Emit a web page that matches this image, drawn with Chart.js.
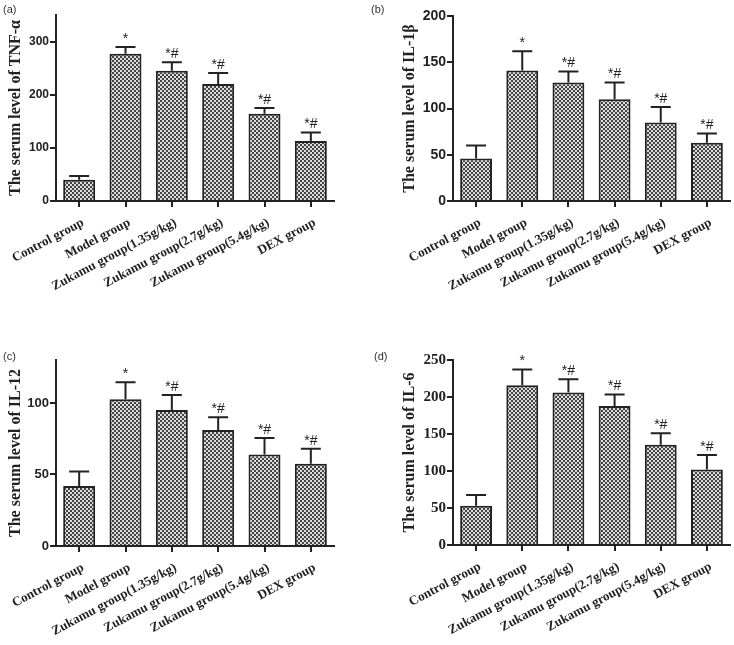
<!DOCTYPE html>
<html>
<head>
<meta charset="utf-8">
<script src="https://cdn.jsdelivr.net/npm/chart.js@4.4.1/dist/chart.umd.min.js"></script>
<style>
  body { margin: 0; background: #fff; }
  #wrap { position: relative; width: 734px; height: 645px; overflow: hidden; }
  canvas { position: absolute; }
  .tag { position: absolute; font: 11px "Liberation Sans", Arial, sans-serif; color: #333; }
</style>
</head>
<body>
<div id="wrap">
  <canvas id="chartA" width="367" height="330" style="left:0;top:0"></canvas>
  <canvas id="chartB" width="367" height="330" style="left:367px;top:0"></canvas>
  <canvas id="chartC" width="367" height="305" style="left:0;top:340px"></canvas>
  <canvas id="chartD" width="367" height="305" style="left:367px;top:340px"></canvas>
  <div class="tag" style="left:3px;top:3px">(a)</div>
  <div class="tag" style="left:371px;top:3px">(b)</div>
  <div class="tag" style="left:3px;top:350px">(c)</div>
  <div class="tag" style="left:374px;top:350px">(d)</div>
</div>
<script>
// groups on the x axis
const CATEGORIES = ['Control group', 'Model group', 'Zukamu group(1.35g/kg)',
  'Zukamu group(2.7g/kg)', 'Zukamu group(5.4g/kg)', 'DEX group'];
// significance marks above each bar
const MARKS = ['', '*', '*#', '*#', '*#', '*#'];

// (a) TNF-α
const TNF_MEAN = [40, 277, 245, 220, 164, 113];
const TNF_ERR = [7, 13, 16, 21, 11, 16];
const TNF_TICKS = [0, 100, 200, 300];
// (b) IL-1β
const IL1B_MEAN = [46, 141, 128, 110, 85, 63];
const IL1B_ERR = [14, 21, 12, 18, 16.5, 10];
const IL1B_TICKS = [0, 50, 100, 150, 200];
// (c) IL-12
const IL12_MEAN = [42, 102.5, 95, 81, 64, 57.5];
const IL12_ERR = [10, 12, 10.5, 9, 11.5, 10.5];
const IL12_TICKS = [0, 50, 100];
// (d) IL-6
const IL6_MEAN = [53, 216, 206, 188, 135.5, 102];
const IL6_ERR = [14.5, 21, 18, 15.5, 15.5, 19.5];
const IL6_TICKS = [0, 50, 100, 150, 200, 250];

const INK = '#222';
const SERIF = '"Liberation Serif", "Times New Roman", serif';
const SANS = '"Liberation Sans", Arial, sans-serif';

// checkered fill like the printed bars
function makePattern() {
    const c = document.createElement('canvas');
    c.width = 4;
    c.height = 4;
    const g = c.getContext('2d');
    g.fillStyle = '#dcdcdc';
    g.fillRect(0, 0, 4, 4);
    g.fillStyle = '#444';
    g.fillRect(0, 0, 2, 2);
    g.fillRect(2, 2, 2, 2);
    return g.createPattern(c, 'repeat');
}

// upper error bar + marks
const errorBars = {
    id: 'errorBars',
    afterDatasetsDraw(chart, args, opts) {
        const ctx = chart.ctx;
        const y = chart.scales.y;
        const meta = chart.getDatasetMeta(0);
        ctx.save();
        ctx.strokeStyle = INK;
        ctx.lineWidth = 2;
        ctx.fillStyle = INK;
        ctx.font = '14px ' + SANS;
        ctx.textAlign = 'center';
        ctx.textBaseline = 'bottom';
        meta.data.forEach((bar, i) => {
            const top = y.getPixelForValue(opts.means[i] + opts.errs[i]);
            ctx.beginPath();
            ctx.moveTo(bar.x, bar.y);
            ctx.lineTo(bar.x, top);
            ctx.moveTo(bar.x - 10, top);
            ctx.lineTo(bar.x + 10, top);
            ctx.stroke();
            if (MARKS[i])
                ctx.fillText(MARKS[i], bar.x, top - 1);
        });
        ctx.restore();
    }
};

function makePanel(id, p) {
    const ctx = document.getElementById(id).getContext('2d');
    return new Chart(ctx, {
        type: 'bar',
        data: {
            labels: CATEGORIES,
            datasets: [{
                data: p.means,
                backgroundColor: makePattern(),
                borderColor: INK,
                borderWidth: 2,
                borderSkipped: 'bottom',
                barPercentage: 0.69,
                categoryPercentage: 1
            }]
        },
        options: {
            responsive: false,
            animation: false,
            layout: { padding: { left: 0, top: p.top, right: p.right, bottom: 0 } },
            plugins: {
                legend: { display: false },
                tooltip: { enabled: false },
                errorBars: { means: p.means, errs: p.errs }
            },
            scales: {
                x: {
                    afterFit: s => {
                        s.height = p.xHeight;
                        // let the rotated labels run into the left margin
                        s.paddingLeft = 0;
                        s.paddingRight = 0;
                    },
                    grid: { offset: false, drawOnChartArea: false, tickLength: 6, lineWidth: 2, color: INK },
                    border: { color: INK, width: 2 },
                    ticks: {
                        minRotation: 28,
                        maxRotation: 28,
                        padding: 8,
                        labelOffset: 4,
                        color: INK,
                        font: { family: SERIF, size: 13, weight: 'bold' }
                    }
                },
                y: {
                    min: 0,
                    max: p.max,
                    afterFit: s => { s.width = p.yWidth; },
                    afterBuildTicks: s => { s.ticks = p.ticks.map(v => ({ value: v })); },
                    grid: { drawOnChartArea: false, tickLength: 6, lineWidth: 2, color: INK },
                    border: { color: INK, width: 2 },
                    ticks: {
                        padding: 1,
                        color: INK,
                        font: { family: p.tickFamily, size: p.tickSize, weight: 'bold' }
                    },
                    title: {
                        display: true,
                        text: p.title,
                        color: INK,
                        padding: { top: p.titlePad, bottom: 0 },
                        font: { family: SERIF, size: 16, weight: 'bold' }
                    }
                }
            }
        },
        plugins: [errorBars]
    });
}

makePanel('chartA', {
    means: TNF_MEAN, errs: TNF_ERR, ticks: TNF_TICKS, max: 350,
    title: 'The serum level of TNF-α',
    top: 15, right: 33, yWidth: 56, xHeight: 129, titlePad: 6,
    tickFamily: SANS, tickSize: 12
});
makePanel('chartB', {
    means: IL1B_MEAN, errs: IL1B_ERR, ticks: IL1B_TICKS, max: 200,
    title: 'The serum level of IL-1β',
    top: 16, right: 4, yWidth: 86, xHeight: 129, titlePad: 33,
    tickFamily: SANS, tickSize: 14
});
makePanel('chartC', {
    means: IL12_MEAN, errs: IL12_ERR, ticks: IL12_TICKS, max: 130,
    title: 'The serum level of IL-12',
    top: 20, right: 33, yWidth: 56, xHeight: 99, titlePad: 6,
    tickFamily: SANS, tickSize: 13
});
makePanel('chartD', {
    means: IL6_MEAN, errs: IL6_ERR, ticks: IL6_TICKS, max: 250,
    title: 'The serum level of IL-6',
    top: 20, right: 4, yWidth: 86, xHeight: 100, titlePad: 33,
    tickFamily: SERIF, tickSize: 15
});
</script>
</body>
</html>
